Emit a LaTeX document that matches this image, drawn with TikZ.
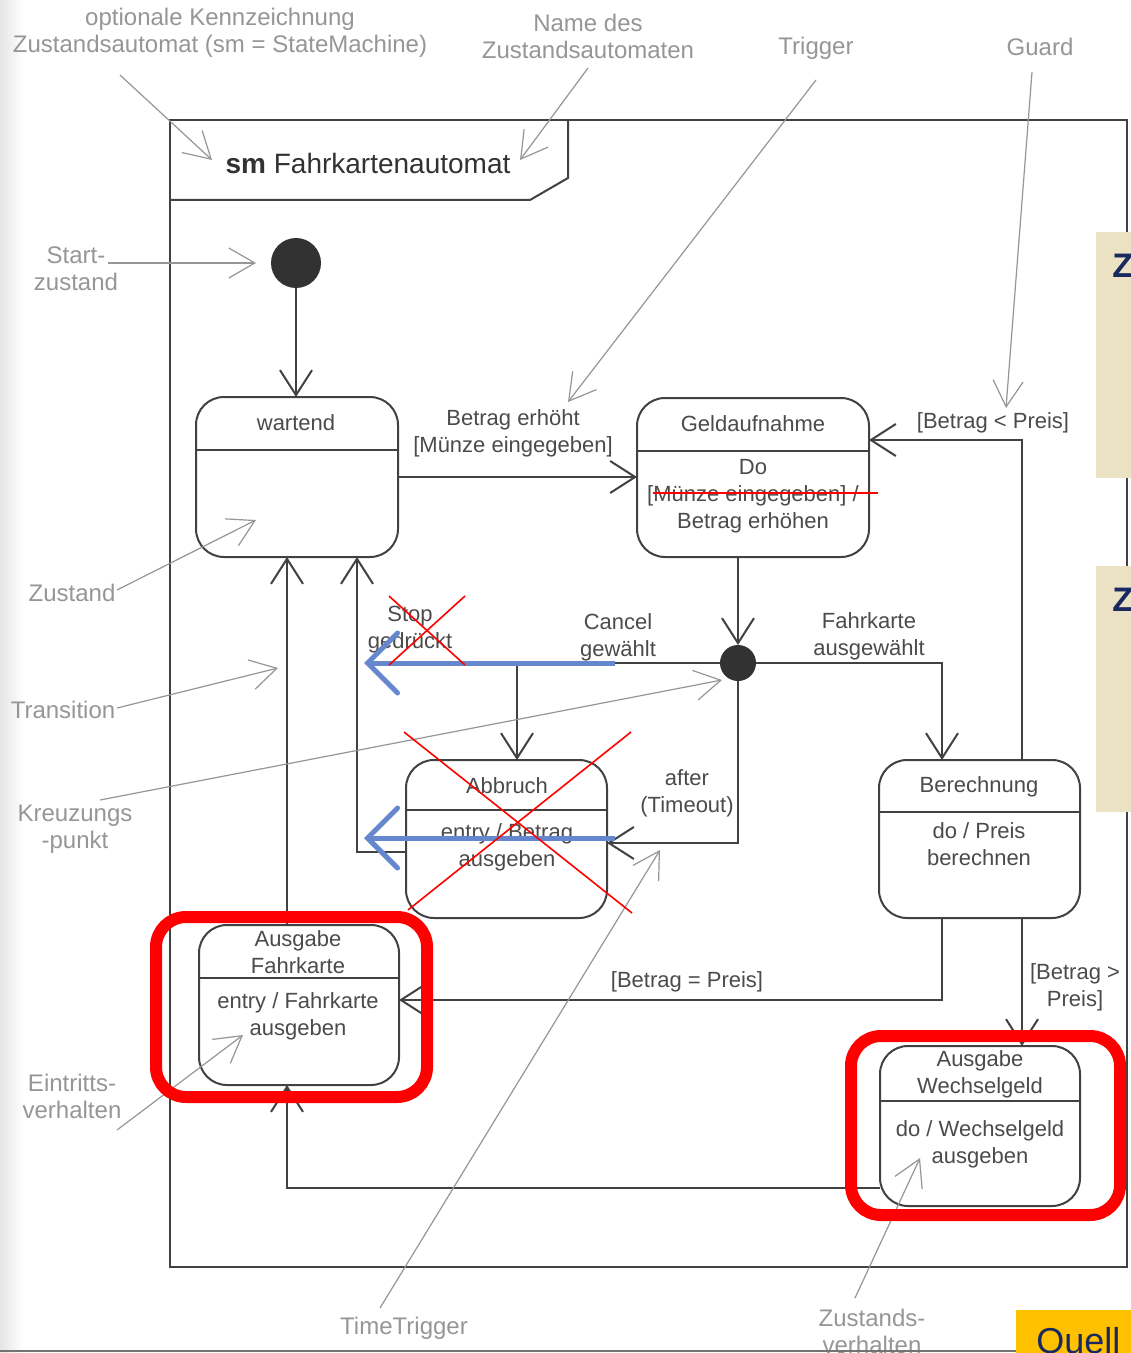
\documentclass[tikz,border=0pt]{standalone}
\usepackage{fontspec}
\setmainfont{Liberation Sans}
\usetikzlibrary{arrows.meta}
\definecolor{linec}{RGB}{65,65,65}
\definecolor{textc}{RGB}{75,75,75}
\definecolor{notec}{RGB}{150,150,150}
\definecolor{dotc}{RGB}{50,50,50}
\definecolor{markblue}{RGB}{100,135,205}
\definecolor{beige}{RGB}{235,226,196}
\definecolor{navy}{RGB}{25,40,95}
\definecolor{gold}{RGB}{255,192,0}
\tikzset{
  pen/.style={draw=linec, line width=1pt},
  statebox/.style={pen, rectangle, rounded corners=14pt, inner sep=0pt, outer sep=0pt, fill=white},
  trans/.style={draw=linec, line width=1pt, -{Straight Barb[length=12.5pt,width=16pt]}},
  note/.style={draw=notec, line width=0.6pt, -{Straight Barb[length=13pt,width=15pt]}},
  txt/.style={text=textc, font=\fontsize{11}{13.5}\selectfont, inner sep=0pt, align=center},
  notetxt/.style={text=notec, font=\fontsize{12}{13.5}\selectfont, inner sep=0pt, align=center},
  cross/.style={draw=red, line width=0.8pt},
  bluemark/.style={draw=markblue, line width=2.5pt, -{Straight Barb[length=15pt,width=30pt,line cap=round]}},
  highlight/.style={draw=red, line width=6pt, rounded corners=15pt},
}
\begin{document}
\begin{tikzpicture}[x=0.5pt,y=-0.5pt]
\useasboundingbox (0,0) rectangle (1130,1353);
\fill[white] (0,0) rectangle (1130,1353);
\shade[left color=black!10, right color=white] (0,0) rectangle (24,1353);

% diagram frame with its name tab
\draw[pen] (170,120) rectangle (1127,1267);
\draw[pen] (170,200) -- (530,200) -- (568,178) -- (568,120);
\node[text=dotc, font=\fontsize{14}{16}\selectfont, inner sep=0pt] (title) at (368,163) {\textbf{sm} Fahrkartenautomat};

% pseudo states
\fill[dotc] (296,263) circle[radius=25];
\node[circle, minimum size=25pt, inner sep=0pt, outer sep=0pt] (start) at (296,263) {};
\fill[dotc] (738,663) circle[radius=18];
\node[circle, minimum size=18pt, inner sep=0pt, outer sep=0pt] (junc) at (738,663) {};

% states
\node[statebox, minimum width=101pt, minimum height=80pt] (wartend) at (297,477) {};
\draw[pen] (wartend.west |- 0,450) -- (wartend.east |- 0,450);
\node[txt] (wartendT) at (296,423) {wartend};

\node[statebox, minimum width=116pt, minimum height=79.5pt] (geld) at (753,477.5) {};
\draw[pen] (geld.west |- 0,451) -- (geld.east |- 0,451);
\node[txt] (geldT) at (753,424) {Geldaufnahme};
\node[txt] (geldB) at (753,496) {Do\\{[}Münze eingegeben{]} /\\Betrag erhöhen};

\node[statebox, minimum width=100.5pt, minimum height=79pt] (abbruch) at (506.5,839) {};
\draw[pen] (abbruch.west |- 0,810) -- (abbruch.east |- 0,810);
\node[txt] (abbruchT) at (507,786) {Abbruch};
\node[txt] (abbruchB) at (507,847) {entry / Betrag\\ausgeben};

\node[statebox, minimum width=100.5pt, minimum height=79pt] (berech) at (979.5,839) {};
\draw[pen] (berech.west |- 0,812) -- (berech.east |- 0,812);
\node[txt] (berechT) at (979,787) {Berechnung};
\node[txt] (berechB) at (979,844) {do / Preis\\berechnen};

\node[statebox, minimum width=100pt, minimum height=80pt] (ausfk) at (299,1005) {};
\draw[pen] (ausfk.west |- 0,978) -- (ausfk.east |- 0,978);
\node[txt] (ausfkT) at (298,952.5) {Ausgabe\\Fahrkarte};
\node[txt] (ausfkB) at (298,1016) {entry / Fahrkarte\\ausgeben};

\node[statebox, minimum width=100pt, minimum height=80pt] (ausw) at (980,1126) {};
\draw[pen] (ausw.west |- 0,1101) -- (ausw.east |- 0,1101);
\node[txt] (auswT) at (980,1074.5) {Ausgabe\\Wechselgeld};
\node[txt] (auswB) at (980,1144.5) {do / Wechselgeld\\ausgeben};

% transitions
\draw[trans] (start) -- (start |- wartend.north);
\draw[trans] (wartend.east) -- (wartend.east -| geld.west);
\draw[trans] (junc |- geld.south) -- (junc.north);
\draw[trans] (junc.east) -| (942,0 |- berech.north);
\draw[trans] (1022,0 |- berech.north) |- (geld.east |- 0,440);
\draw[trans] (junc.west) -| (517,0 |- abbruch.north);
\draw[trans] (junc.south) |- (abbruch.east |- 0,843);
\draw[trans] (abbruch.west |- 0,852) -| (357,0 |- wartend.south);
\draw[trans] (287,0 |- ausfk.north) -- (287,0 |- wartend.south);
\draw[trans] (942,0 |- berech.south) |- (ausfk.east |- 0,1000);
\draw[trans] (1022,0 |- berech.south) -- (1022,0 |- ausw.north);
\draw[trans] (ausw.west |- 0,1188) -| (287,0 |- ausfk.south);

% transition labels
\node[txt] (lBetrag) at (513,433) {Betrag erhöht\\{[}Münze eingegeben{]}};
\node[txt] (lFahrkarte) at (869,636) {Fahrkarte\\ausgewählt};
\node[txt] (lKleiner) at (993,423) {[Betrag < Preis]};
\node[txt] (lCancel) at (618,637) {Cancel\\gewählt};
\node[txt] (lStop) at (410,630) {Stop\\gedrückt};
\node[txt] (lAfter) at (687,793) {after\\(Timeout)};
\node[txt] (lGleich) at (687,982) {[Betrag = Preis]};
\node[txt] (lGroesser) at (1075,987) {[Betrag >\\Preis]};

% explanatory callouts
\node[notetxt] (nOpt) at (220,32.5) {optionale Kennzeichnung\\Zustandsautomat (sm = StateMachine)};
\coordinate (nOptA) at (120,75);   \coordinate (nOptB) at (212,160);
\draw[note] (nOptA) -- (nOptB);
\node[notetxt] (nName) at (588,36.5) {Name des\\Zustandsautomaten};
\coordinate (nNameA) at (588,68);  \coordinate (nNameB) at (520,160);
\draw[note] (nNameA) -- (nNameB);
\node[notetxt] (nTrigger) at (816,48) {Trigger};
\coordinate (nTrigA) at (816,80);  \coordinate (nTrigB) at (568,402);
\draw[note] (nTrigA) -- (nTrigB);
\node[notetxt] (nGuard) at (1040,47) {Guard};
\coordinate (nGuardA) at (1032,72); \coordinate (nGuardB) at (1006,408);
\draw[note] (nGuardA) -- (nGuardB);
\node[notetxt] (nStart) at (76,268.5) {Start-\\zustand};
\coordinate (nStartA) at (108,263); \coordinate (nStartB) at (256,263);
\draw[note] (nStartA) -- (nStartB);
\node[notetxt] (nZustand) at (72,593) {Zustand};
\coordinate (nZustA) at (117,590); \coordinate (nZustB) at (256,520);
\draw[note] (nZustA) -- (nZustB);
\node[notetxt] (nTrans) at (63,710) {Transition};
\coordinate (nTransA) at (117,708); \coordinate (nTransB) at (278,668);
\draw[note] (nTransA) -- (nTransB);
\node[notetxt] (nKreuz) at (75,829) {Kreuzungs\\-punkt};
\coordinate (nKreuzA) at (100,800); \coordinate (nKreuzB) at (722,680);
\draw[note] (nKreuzA) -- (nKreuzB);
\node[notetxt] (nEintritt) at (72,1096.5) {Eintritts-\\verhalten};
\coordinate (nEinA) at (117,1130); \coordinate (nEinB) at (243,1035);
\draw[note] (nEinA) -- (nEinB);
\node[notetxt] (nTime) at (404,1328) {TimeTrigger};
\coordinate (nTimeA) at (380,1308); \coordinate (nTimeB) at (660,850);
\draw[note] (nTimeA) -- (nTimeB);
\node[notetxt] (nVerh) at (872,1331) {Zustands-\\verhalten};
\coordinate (nVerhA) at (855,1298); \coordinate (nVerhB) at (920,1158);
\draw[note] (nVerhA) -- (nVerhB);

% side panels and source tag
\fill[beige] (1096,232) rectangle (1140,478);
\fill[beige] (1096,566) rectangle (1140,812);
\node[text=navy, font=\fontsize{17}{19}\selectfont\bfseries, anchor=west, inner sep=0pt] (z1) at (1112,266) {Z};
\node[text=navy, font=\fontsize{17}{19}\selectfont\bfseries, anchor=west, inner sep=0pt] (z2) at (1112,600) {Z};
\fill[gold] (1016,1310) rectangle (1140,1360);
\node[text=navy, font=\fontsize{18}{20}\selectfont, anchor=west, inner sep=0pt] (quell) at (1036,1344) {Quell};
\draw[black!55, line width=1pt] (0,1351) -- (1016,1351);

% edits: blue reroutes, red strike-outs, red highlights
\draw[bluemark] (615,663) -- (364,663);
\draw[bluemark] (615,838) -- (364,838);
\draw[cross] (653,493) -- (878,493);
\draw[cross] (389,596) -- (465,665);
\draw[cross] (465,596) -- (389,665);
\draw[cross] (404,732) -- (632,913);
\draw[cross] (631,732) -- (408,910);
\draw[highlight] (156,917) rectangle (427,1097);
\draw[highlight] (851,1036) rectangle (1120,1215);
\end{tikzpicture}
\end{document}
